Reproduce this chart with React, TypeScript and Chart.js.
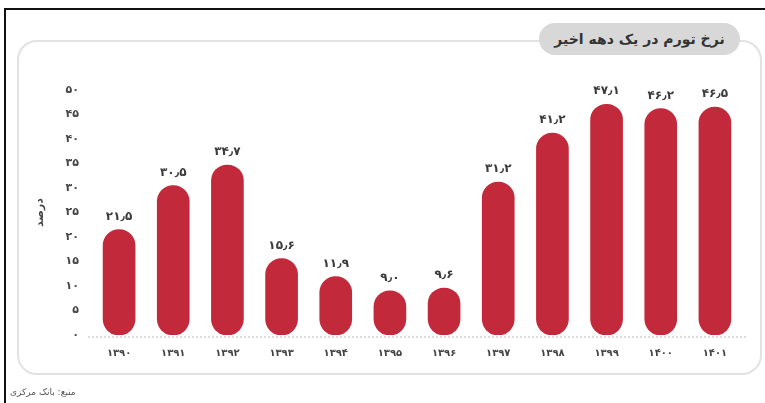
import React, { useEffect, useRef } from "react";
import { Chart, registerables } from "chart.js";

Chart.register(...registerables);

const years = ["۱۳۹۰", "۱۳۹۱", "۱۳۹۲", "۱۳۹۳", "۱۳۹۴", "۱۳۹۵", "۱۳۹۶", "۱۳۹۷", "۱۳۹۸", "۱۳۹۹", "۱۴۰۰", "۱۴۰۱"];
const inflation = [21.5, 30.5, 34.7, 15.6, 11.9, 9.0, 9.6, 31.2, 41.2, 47.1, 46.2, 46.5];
const yTicks = [0, 5, 10, 15, 20, 25, 30, 35, 40, 45, 50];
const titleText = "نرخ تورم در یک دهه اخیر";
const yAxisTitle = "درصد";
const sourceText = "منبع: بانک مرکزی";

const FA_DIGITS = "۰۱۲۳۴۵۶۷۸۹";
function toFa(s: string): string {
  return s.replace(/[0-9]/g, (d) => FA_DIGITS[Number(d)]).replace(".", "٫");
}

const FONT = "'DejaVu Sans', sans-serif";
const BAR = "#c2293b";

const labelPlugin = {
  id: "valueLabels",
  afterDatasetsDraw(chart: any) {
    const ctx = chart.ctx;
    const area = chart.chartArea;
    ctx.save();
    ctx.strokeStyle = "#d0d0d0";
    ctx.lineWidth = 1.5;
    ctx.setLineDash([2, 2]);
    ctx.beginPath();
    ctx.moveTo(area.left - 4, area.bottom + 2);
    ctx.lineTo(area.right + 6, area.bottom + 2);
    ctx.stroke();
    ctx.setLineDash([]);
    const meta = chart.getDatasetMeta(0);
    ctx.fillStyle = "#3a3a3a";
    ctx.font = `bold 12px ${FONT}`;
    ctx.textAlign = "center";
    ctx.textBaseline = "bottom";
    meta.data.forEach((bar: any, i: number) => {
      const v = chart.data.datasets[0].data[i] as number;
      ctx.fillText(toFa(v.toFixed(1)), bar.x, bar.y - 7);
    });
    ctx.restore();
  },
};

export default function App() {
  const ref = useRef<HTMLCanvasElement | null>(null);
  useEffect(() => {
    if (!ref.current) return;
    const chart = new Chart(ref.current, {
      type: "bar",
      data: {
        labels: years,
        datasets: [
          {
            data: inflation,
            backgroundColor: BAR,
            borderRadius: 16,
            borderSkipped: false,
            barThickness: 32,
          },
        ],
      },
      options: {
        animation: false,
        responsive: false,
        devicePixelRatio: 1,
        layout: { padding: { left: 34, right: 23, top: 90, bottom: 43 } },
        plugins: { legend: { display: false }, tooltip: { enabled: false } },
        scales: {
          x: {
            grid: { display: false, drawTicks: false },
            border: { display: false },
            ticks: {
              padding: 12,
              color: "#444",
              font: { family: FONT, size: 10, weight: "bold" },
            },
            afterFit: (s: any) => {
              s.height = 25;
            },
          },
          y: {
            min: 0,
            max: 50,
            afterBuildTicks: (s: any) => {
              s.ticks = yTicks.map((v) => ({ value: v }));
            },
            grid: { display: false, drawTicks: false },
            border: { display: false },
            ticks: {
              padding: 13,
              color: "#444",
              font: { family: FONT, size: 11, weight: "bold" },
              callback: (v: any) => toFa(String(v)),
            },
            title: {
              display: true,
              text: yAxisTitle,
              color: "#444",
              font: { family: FONT, size: 11, weight: "bold" },
              padding: 0,
            },
            afterFit: (s: any) => {
              s.width = 58;
            },
          },
        },
      },
      plugins: [labelPlugin],
    });
    return () => chart.destroy();
  }, []);

  return (
    <div style={{ position: "fixed", left: 0, top: 0, width: 765, height: 403, background: "#fff", overflow: "hidden", fontFamily: FONT }}>
      <div style={{ position: "absolute", left: 4, top: 8, right: 0, height: 2, background: "#111" }} />
      <div style={{ position: "absolute", left: 4, top: 8, bottom: 0, width: 2, background: "#111" }} />
      <div
        style={{
          position: "absolute",
          left: 17,
          top: 40,
          width: 741,
          height: 331,
          border: "2px solid #e2e2e2",
          borderRadius: 20,
          background: "#fff",
        }}
      />
      <div
        style={{
          position: "absolute",
          left: 539,
          top: 23,
          width: 201,
          height: 32,
          borderRadius: 16,
          background: "#d8d8d8",
          color: "#333",
          fontSize: 14,
          fontWeight: "bold",
          direction: "rtl",
          display: "flex",
          alignItems: "center",
          justifyContent: "center",
        }}
      >
        {titleText}
      </div>
      <canvas ref={ref} width={765} height={403} style={{ position: "absolute", left: 0, top: 0, width: 765, height: 403 }} />
      <div style={{ position: "absolute", left: 10, top: 387, fontSize: 9, color: "#555", direction: "rtl" }}>{sourceText}</div>
    </div>
  );
}
